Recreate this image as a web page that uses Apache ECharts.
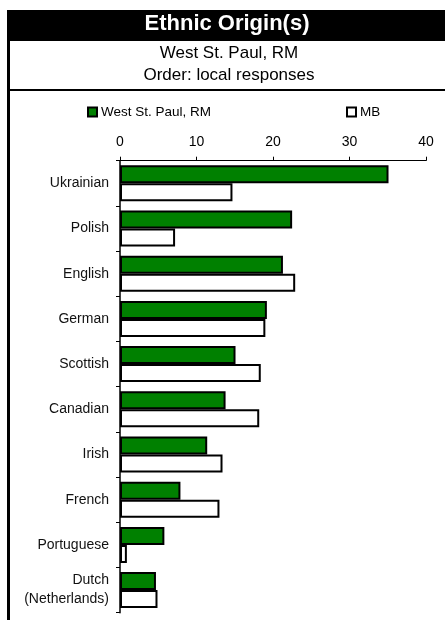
<!DOCTYPE html>
<html>
<head>
<meta charset="utf-8">
<script src="https://cdn.jsdelivr.net/npm/echarts@6/dist/echarts.min.js"></script>
<style>html,body{margin:0;padding:0;background:#fff;}#chart{width:445px;height:620px;}</style>
</head>
<body>
<div id="chart"></div>
<script>
const categories = ['Ukrainian', 'Polish', 'English', 'German', 'Scottish', 'Canadian', 'Irish', 'French', 'Portuguese', 'Dutch\n(Netherlands)'];
const localValues = [35.1, 22.5, 21.3, 19.2, 15.1, 13.8, 11.4, 7.9, 5.8, 4.7];
const mbValues = [14.7, 7.2, 22.9, 19.0, 18.4, 18.2, 13.4, 13.0, 0.9, 4.9];
const seriesNames = ['West St. Paul, RM', 'MB'];
const xTicks = [0, 10, 20, 30, 40];

const FONT = 'Liberation Sans, Arial, Helvetica, sans-serif';
const chart = echarts.init(document.getElementById('chart'), null, {renderer: 'canvas'});
chart.setOption({
  animation: false,
  backgroundColor: '#fff',
  textStyle: {fontFamily: FONT, color: '#000'},
  graphic: [
    {type: 'rect', z: 0, shape: {x: 7, y: 10, width: 438, height: 31}, style: {fill: '#000'}},
    {type: 'rect', z: 0, shape: {x: 7, y: 10, width: 3, height: 610}, style: {fill: '#000'}},
    {type: 'rect', z: 0, shape: {x: 7, y: 89, width: 438, height: 2}, style: {fill: '#000'}}
  ],
  title: [
    {text: 'Ethnic Origin(s)', left: 227, top: 24, padding: 0, textAlign: 'center', textVerticalAlign: 'middle',
     textStyle: {color: '#fff', fontSize: 22, fontWeight: 'bold', fontFamily: FONT}},
    {text: 'West St. Paul, RM', left: 229, top: 53, padding: 0, textAlign: 'center', textVerticalAlign: 'middle',
     textStyle: {color: '#000', fontSize: 17, fontWeight: 'normal', fontFamily: FONT}},
    {text: 'Order: local responses', left: 229, top: 75, padding: 0, textAlign: 'center', textVerticalAlign: 'middle',
     textStyle: {color: '#000', fontSize: 17, fontWeight: 'normal', fontFamily: FONT}}
  ],
  legend: [
    {data: [seriesNames[0]], left: 87, top: 105, padding: 0, itemWidth: 9, itemHeight: 9, itemGap: 4,
     icon: 'rect', textStyle: {fontSize: 13.5, fontFamily: FONT, color: '#000', padding: [0, 0, 0, -1]}, selectedMode: false},
    {data: [seriesNames[1]], left: 346, top: 105, padding: 0, itemWidth: 9, itemHeight: 9, itemGap: 4,
     icon: 'rect', textStyle: {fontSize: 13.5, fontFamily: FONT, color: '#000', padding: [0, 0, 0, -1]}, selectedMode: false}
  ],
  grid: {left: 120, right: 19, top: 160.7, bottom: 7.3, containLabel: false},
  xAxis: {
    type: 'value', position: 'top', min: xTicks[0], max: xTicks[xTicks.length - 1], interval: 10,
    axisLine: {show: true, lineStyle: {color: '#000', width: 1}},
    axisTick: {show: true, inside: false, length: 4, lineStyle: {color: '#000'}},
    axisLabel: {fontSize: 14, color: '#000', margin: 12, fontFamily: FONT},
    splitLine: {show: false}
  },
  yAxis: {
    type: 'category', inverse: true, data: categories,
    axisLine: {show: true, lineStyle: {color: '#000', width: 1.5}},
    axisTick: {show: true, inside: false, length: 4, alignWithLabel: false, lineStyle: {color: '#000'}},
    axisLabel: {fontSize: 14, color: '#111', margin: 11, lineHeight: 19, align: 'right', fontFamily: FONT, interval: 0}
  },
  series: [
    {name: seriesNames[0], type: 'bar', data: localValues, barWidth: 18, barGap: '0%',
     itemStyle: {color: '#008000', borderColor: '#000', borderWidth: 2}},
    {name: seriesNames[1], type: 'bar', data: mbValues, barWidth: 18, barGap: '0%',
     itemStyle: {color: '#fff', borderColor: '#000', borderWidth: 2}}
  ]
});
</script>
</body>
</html>
